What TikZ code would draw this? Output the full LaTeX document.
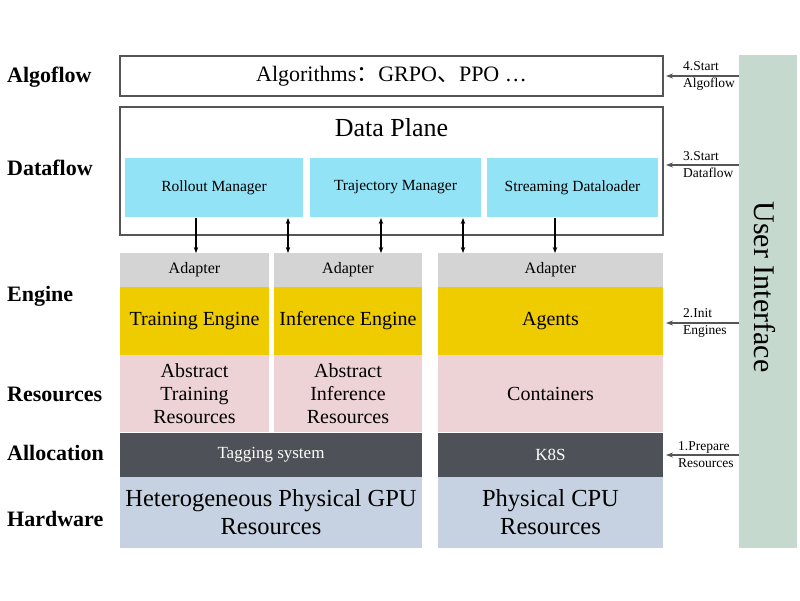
\documentclass[tikz,border=0pt]{standalone}
\usepackage{fontspec}
\setmainfont{Liberation Serif}
\setsansfont{Liberation Serif}
\newfontfamily\tnr{Liberation Serif}
\newfontfamily\cjk{Noto Sans CJK SC}
\usetikzlibrary{arrows.meta}
\definecolor{cyanbox}{HTML}{93E3F6}
\definecolor{adgray}{HTML}{D4D4D4}
\definecolor{engyel}{HTML}{EFCC00}
\definecolor{respink}{HTML}{EED3D6}
\definecolor{alldark}{HTML}{4E5157}
\definecolor{hwblue}{HTML}{C6D2E1}
\definecolor{uigreen}{HTML}{C5D9CE}
\definecolor{linegray}{HTML}{555555}
\newcommand\mybox[7]{\node[#6, minimum width={(#4-#2)*1pt}, minimum height={(#5-#3)*1pt}] (#1) at ({(#2+#4)/2},{(#3+#5)/2}) {#7};}
\begin{document}
\begin{tikzpicture}[x=1pt,y=-1pt,
  base/.style={inner sep=0pt, outer sep=0pt, align=center},
  outline/.style={base, draw=linegray, line width=1.3pt, fill=white},
  mgrbox/.style={base, fill=cyanbox, font=\tnr\fontsize{15.5}{18}\selectfont},
  adaptbox/.style={base, fill=adgray, font=\tnr\fontsize{16}{19}\selectfont},
  engbox/.style={base, fill=engyel, font=\tnr\fontsize{20}{23}\selectfont},
  resbox/.style={base, fill=respink, font=\tnr\fontsize{20}{23}\selectfont},
  allocbox/.style={base, fill=alldark, text=white, font=\tnr\fontsize{17}{20}\selectfont},
  hwbox/.style={base, fill=hwblue, font=\tnr\fontsize{24.5}{28}\selectfont},
  rowlab/.style={inner sep=0pt, anchor=west, font=\tnr\fontsize{22}{26}\selectfont\bfseries},
  sidelab/.style={inner sep=0pt, anchor=west, align=left, font=\tnr\fontsize{13.5}{16}\selectfont},
  darr/.style={-{Stealth[length=6pt,width=4.5pt]}, line width=1.1pt, black},
  barr/.style={{Stealth[length=6pt,width=4.5pt]}-{Stealth[length=6pt,width=4.5pt]}, line width=1.1pt, black},
  uarr/.style={-{Stealth[length=7pt,width=5pt]}, line width=1.1pt, linegray}
]
\useasboundingbox (0,0) rectangle (800,600);

% row labels
\node[rowlab] (lAlgo) at (7,77) {Algoflow};
\node[rowlab] (lData) at (7,168) {Dataflow};
\node[rowlab] (lEng) at (7,296) {Engine};
\node[rowlab] (lRes) at (7,394) {Resources};
\node[rowlab] (lAlloc) at (7,453) {Allocation};
\node[rowlab] (lHw) at (7,519) {Hardware};

% algorithms
\mybox{algo}{120}{56}{663}{96}{outline, font=\tnr\fontsize{22}{26}\selectfont}{Algorithms{\cjk ：}GRPO{\cjk 、}PPO …}

% data plane
\mybox{dp}{120}{107}{663}{235}{outline}{}
\node[base, font=\tnr\fontsize{26}{30}\selectfont] (dptitle) at (391.5,128) {Data Plane};
\mybox{roll}{125}{158}{303}{217}{mgrbox}{Rollout Manager}
\mybox{traj}{310}{158}{481}{217}{mgrbox}{Trajectory Manager}
\mybox{strm}{487}{158}{658}{217}{mgrbox}{Streaming Dataloader}

% column 1
\mybox{ad1}{120}{253}{269}{287}{adaptbox}{Adapter}
\mybox{te}{120}{287}{269}{355}{engbox}{Training Engine}
\mybox{atr}{120}{355}{269}{432}{resbox}{Abstract\\Training\\Resources}
% column 2
\mybox{ad2}{274}{253}{422}{287}{adaptbox}{Adapter}
\mybox{ie}{274}{287}{422}{355}{engbox}{Inference Engine}
\mybox{air}{274}{355}{422}{432}{resbox}{Abstract\\Inference\\Resources}
% column 3
\mybox{ad3}{438}{253}{663}{287}{adaptbox}{Adapter}
\mybox{ag}{438}{287}{663}{355}{engbox}{Agents}
\mybox{ct}{438}{355}{663}{432}{resbox}{Containers}
% allocation
\mybox{tag}{120}{432.5}{422}{477}{allocbox}{Tagging system}
\mybox{k8s}{438}{432.5}{663}{477}{allocbox}{K8S}
% hardware
\mybox{gpu}{120}{477}{422}{548}{hwbox}{Heterogeneous Physical GPU\\Resources}
\mybox{cpu}{438}{477}{663}{548}{hwbox}{Physical CPU\\Resources}

% user interface bar
\mybox{ui}{739}{55}{797}{548}{base, fill=uigreen}{}
\node[base, rotate=-90, font=\tnr\fontsize{30}{34}\selectfont] (uitext) at (765,287) {User Interface};

% data plane to adapters
\coordinate (c1) at (196,0);
\coordinate (c2) at (288,0);
\coordinate (c3) at (381,0);
\coordinate (c4) at (463,0);
\coordinate (c5) at (555,0);
\draw[darr] ([yshift=-1pt]roll.south -| c1) -- (ad1.north -| c1);
\draw[barr] ([yshift=-1pt]roll.south -| c2) -- (ad2.north -| c2);
\draw[barr] ([yshift=-1pt]traj.south -| c3) -- (ad2.north -| c3);
\draw[barr] ([yshift=-1pt]traj.south -| c4) -- (ad3.north -| c4);
\draw[darr] ([yshift=-1pt]strm.south -| c5) -- (ad3.north -| c5);

% side labels and arrows
\node[sidelab] (s4) at (683,76) {4.Start\\[1pt]Algoflow};
\node[sidelab] (s3) at (683,165) {3.Start\\[1pt]Dataflow};
\node[sidelab] (s2) at (683,323) {2.Init\\[1pt]Engines};
\node[sidelab] (s1) at (678,455) {1.Prepare\\[1pt]Resources};
\draw[uarr] (ui.west |- s4) -- ([xshift=3pt]algo.east |- s4);
\draw[uarr] (ui.west |- s3) -- ([xshift=3pt]dp.east |- s3);
\draw[uarr] (ui.west |- s2) -- ([xshift=3pt]ag.east |- s2);
\draw[uarr] (ui.west |- s1) -- ([xshift=3pt]k8s.east |- s1);
\end{tikzpicture}
\end{document}
